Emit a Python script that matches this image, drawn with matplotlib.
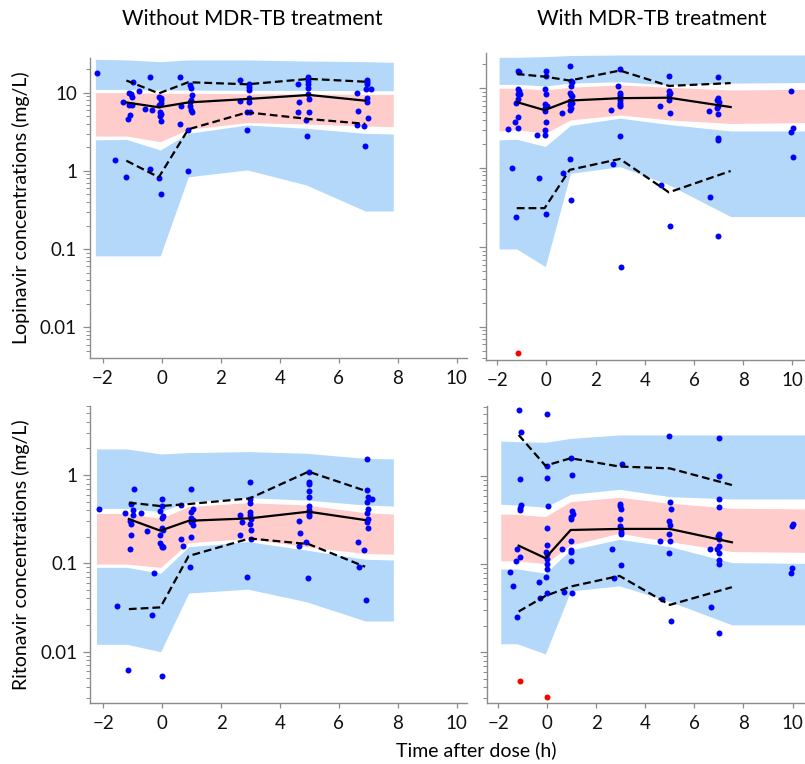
import numpy as np
import matplotlib
matplotlib.use("Agg")
import matplotlib.pyplot as plt
from matplotlib.ticker import LogLocator, NullFormatter, FixedLocator

plt.rcParams['font.family'] = ['Lato', 'DejaVu Sans']

# colours of the VPC bands
BLUE_BAND = '#b3d8fa'
PINK_BAND = '#ffcccc'
SPINE = '#8c8c8c'

col_titles = ["Without MDR-TB treatment", "With MDR-TB treatment"]
row_labels = ["Lopinavir concentrations (mg/L)", "Ritonavir concentrations (mg/L)"]
x_label = "Time after dose (h)"
x_ticks = [-2, 0, 2, 4, 6, 8, 10]

# ---------------- Lopinavir, without MDR-TB treatment ----------------
lpv_no_band_t = [-2.25, -1.2, -0.05, 0.9, 2.9, 4.9, 6.9, 7.85]
lpv_no_hi_top = [26.7, 26.2, 24.9, 26.2, 26.2, 25.4, 24.9, 24.4]
lpv_no_hi_bot = [11.0, 11.0, 10.8, 10.8, 10.7, 10.7, 10.6, 10.6]
lpv_no_md_top = [10.0, 10.0, 9.8, 9.8, 9.7, 9.6, 9.5, 9.5]
lpv_no_md_bot = [2.79, 2.79, 2.36, 3.40, 4.14, 3.98, 3.75, 3.68]
lpv_no_lo_top = [2.49, 2.53, 1.85, 3.02, 3.86, 3.50, 3.02, 2.96]
lpv_no_lo_bot = [0.082, 0.082, 0.082, 0.84, 1.03, 0.66, 0.307, 0.307]
lpv_no_line_t = [-1.2, -0.1, 0.9, 2.9, 5.0, 6.9]
lpv_no_p95 = [14.3, 9.8, 13.6, 12.8, 15.0, 13.8]
lpv_no_p50 = [7.5, 6.5, 7.5, 8.3, 9.35, 7.9]
lpv_no_p5 = [1.35, 0.83, 3.4, 5.6, 4.6, 4.0]
lpv_no_obs_t = [-2.18, -1.58, -1.21, -0.98, -0.76, -0.40, 0.62, -0.40, -0.02, 0.88,
                -1.30, -1.10, -1.05, -1.02, -1.10, -1.02, -1.07, -1.13, -0.57, -0.32,
                -0.09, -0.02, -0.02, -0.02, -0.09, -0.06, -0.02, -0.06, -0.02, -0.11,
                0.64, 0.62, 0.96, 0.99, 1.02, 0.99, 0.96, 0.96, 0.99, 1.02, 0.88,
                2.65, 2.97, 2.97, 2.97, 2.65, 2.97, 2.97, 2.88, 2.99, 2.88,
                4.63, 4.97, 4.97, 4.97, 4.97, 4.97, 5.00, 4.65, 4.63, 5.00, 4.89, 4.91,
                6.95, 6.95, 6.97, 6.93, 7.10, 6.61, 6.95, 6.95, 6.67, 7.00, 6.61, 6.86, 6.89]
lpv_no_obs_c = [17.7, 1.38, 0.83, 13.6, 10.6, 15.7, 15.7, 1.05, 0.51, 1.0,
                7.5, 10.0, 9.5, 8.9, 7.0, 7.0, 5.2, 4.6, 6.1, 6.0,
                8.9, 8.5, 8.07, 7.3, 7.0, 5.7, 5.4, 5.0, 4.3, 0.80,
                6.8, 4.0, 12.5, 11.4, 9.2, 8.07, 7.5, 6.8, 6.0, 5.6, 3.3,
                14.5, 12.8, 11.9, 10.8, 7.9, 8.5, 7.7, 5.6, 5.6, 3.3,
                12.8, 15.7, 14.3, 12.8, 11.6, 9.5, 8.2, 7.7, 5.6, 5.6, 4.5, 2.8,
                14.5, 13.6, 12.9, 11.1, 11.0, 9.8, 8.6, 7.7, 5.9, 4.7, 3.9, 3.75, 2.1]
lpv_no_blq_t = []
lpv_no_blq_c = []

# ---------------- Lopinavir, with MDR-TB treatment ----------------
lpv_tb_band_t = [-1.92, -1.2, -0.04, 0.98, 3.0, 4.98, 7.49, 10.6]
lpv_tb_hi_top = [24.5, 24.5, 25.0, 25.8, 26.2, 26.2, 26.2, 26.2]
lpv_tb_hi_bot = [11.2, 11.2, 10.7, 11.6, 12.1, 11.0, 11.6, 11.8]
lpv_tb_md_top = [10.0, 10.0, 9.5, 10.3, 11.0, 10.3, 9.5, 9.7]
lpv_tb_md_bot = [2.9, 3.0, 2.7, 4.0, 4.6, 4.0, 3.6, 3.7]
lpv_tb_lo_top = [2.24, 2.28, 1.85, 3.4, 4.2, 3.5, 2.9, 2.9]
lpv_tb_lo_bot = [0.095, 0.095, 0.057, 0.85, 1.03, 0.61, 0.243, 0.243]
lpv_tb_line_t = [-1.2, -0.07, 0.95, 2.99, 4.98, 7.49]
lpv_tb_p95 = [15.1, 14.0, 12.5, 16.7, 10.7, 11.6]
lpv_tb_p50 = [6.7, 5.3, 7.0, 7.5, 7.6, 5.8]
lpv_tb_p5 = [0.31, 0.31, 0.94, 1.29, 0.49, 0.91]
lpv_tb_obs_t = [-1.40, -1.22, -1.16, -1.09, -1.16, -1.09, -1.16, -1.06, -1.16, -1.22,
                -1.29, -1.16, -1.16, -1.54, -0.29,
                0.00, 0.00, -0.04, 0.00, -0.04, 0.03, -0.04, -0.04, 0.00, -0.04,
                -0.04, -0.38, -0.01, 0.64, 0.68,
                0.98, 1.00, 1.04, 1.00, 0.98, 1.00, 1.04, 0.98, 1.04, 0.98, 1.00, 0.98, 0.98, 1.00,
                2.99, 2.92, 2.99, 2.99, 3.01, 2.99, 3.01, 2.99, 2.99, 2.63, 3.01, 2.71, 3.04,
                4.98, 4.98, 5.02, 4.98, 4.98, 4.60, 5.02, 4.67, 5.02,
                6.98, 6.98, 6.95, 7.02, 6.98, 6.92, 6.61, 6.98, 6.98, 6.98, 6.65, 6.99,
                9.94, 10.01, 9.94, 10.01]
lpv_tb_obs_c = [0.98, 0.24, 16.7, 15.9, 9.7, 9.1, 8.4, 8.4, 7.3, 6.6,
                3.8, 4.3, 3.2, 3.1, 0.74,
                16.7, 14.3, 9.7, 8.4, 6.4, 6.0, 5.7, 5.2, 3.8, 3.0,
                2.6, 2.6, 0.26, 4.9, 0.87,
                19.3, 12.4, 12.1, 10.8, 8.6, 8.2, 7.9, 7.0, 6.6, 6.2, 5.6, 5.3, 1.29, 0.39,
                17.3, 10.7, 8.8, 8.2, 7.7, 7.1, 6.6, 6.2, 5.9, 5.4, 2.5, 1.12, 0.057,
                14.3, 9.1, 8.6, 8.2, 7.1, 6.0, 4.9, 0.61, 0.185,
                13.7, 7.5, 7.1, 6.8, 6.0, 5.6, 5.2, 4.8, 2.35, 2.24, 0.43, 0.14,
                9.1, 3.2, 2.85, 1.36]
lpv_tb_blq_t = [-1.13]
lpv_tb_blq_c = [0.0047]

# ---------------- Ritonavir, without MDR-TB treatment ----------------
rtv_no_band_t = [-2.23, -1.2, -0.05, 0.9, 2.9, 4.9, 6.9, 7.85]
rtv_no_hi_top = [1.97, 1.97, 1.73, 1.79, 1.84, 1.76, 1.54, 1.52]
rtv_no_hi_bot = [0.419, 0.419, 0.384, 0.498, 0.553, 0.520, 0.457, 0.445]
rtv_no_md_top = [0.367, 0.367, 0.323, 0.438, 0.486, 0.457, 0.374, 0.361]
rtv_no_md_bot = [0.098, 0.098, 0.090, 0.171, 0.191, 0.154, 0.129, 0.127]
rtv_no_lo_top = [0.090, 0.090, 0.077, 0.154, 0.176, 0.141, 0.111, 0.109]
rtv_no_lo_bot = [0.0121, 0.0121, 0.00998, 0.046, 0.051, 0.0367, 0.0222, 0.0222]
rtv_no_line_t = [-1.13, -0.06, 0.9, 2.97, 4.97, 6.89]
rtv_no_p95 = [0.486, 0.445, 0.469, 0.543, 1.09, 0.664]
rtv_no_p50 = [0.317, 0.234, 0.303, 0.323, 0.384, 0.309]
rtv_no_p5 = [0.0303, 0.0317, 0.121, 0.191, 0.165, 0.0915]
rtv_no_obs_t = [-2.15, -1.55, -1.16, -1.27, -0.96, -1.05, -0.98, -0.98, -0.73, -1.10,
                -1.07, -1.05, -1.10, -0.53, -0.28, -0.36, 0.00,
                -0.02, 0.00, -0.06, 0.03, 0.00, -0.02, 0.03, -0.06, -0.09, -0.02, 0.00, 0.03,
                0.99, 1.05, 0.99, 0.99, 1.05, 0.99, 1.04, 0.64, 0.99, 0.64, 0.70, 0.93,
                2.97, 2.99, 2.99, 2.99, 2.99, 3.02, 2.99, 3.03, 2.65, 2.71, 2.63, 3.03, 2.88,
                4.99, 4.97, 4.99, 5.00, 4.99, 4.97, 4.99, 5.00, 4.99, 4.63, 4.67, 4.89, 4.63, 4.94,
                6.95, 6.95, 6.98, 7.12, 6.95, 6.98, 6.95, 6.98, 6.95, 6.98, 6.64, 6.87, 6.67, 6.93]
rtv_no_obs_c = [0.41, 0.033, 0.0062, 0.37, 0.69, 0.47, 0.40, 0.35, 0.37, 0.30,
                0.28, 0.21, 0.144, 0.23, 0.078, 0.026, 0.0053,
                0.53, 0.45, 0.39, 0.34, 0.33, 0.25, 0.24, 0.21, 0.171, 0.157, 0.151, 0.154,
                0.69, 0.41, 0.38, 0.33, 0.31, 0.29, 0.27, 0.46, 0.20, 0.19, 0.158, 0.091,
                0.84, 0.53, 0.48, 0.38, 0.35, 0.32, 0.28, 0.24, 0.35, 0.29, 0.21, 0.187, 0.070,
                1.09, 0.84, 0.80, 0.66, 0.57, 0.44, 0.40, 0.36, 0.34, 0.30, 0.22, 0.176, 0.158, 0.069,
                1.52, 0.68, 0.56, 0.54, 0.50, 0.41, 0.37, 0.32, 0.29, 0.25, 0.176, 0.141, 0.091, 0.038]
rtv_no_blq_t = []
rtv_no_blq_c = []

# ---------------- Ritonavir, with MDR-TB treatment ----------------
rtv_tb_band_t = [-1.89, -1.23, -0.07, 0.96, 2.95, 5.0, 7.53, 10.62]
rtv_tb_hi_top = [2.49, 2.45, 2.41, 2.67, 2.92, 2.92, 2.92, 2.92]
rtv_tb_hi_bot = [0.478, 0.469, 0.442, 0.620, 0.706, 0.583, 0.549, 0.549]
rtv_tb_md_top = [0.371, 0.368, 0.346, 0.512, 0.573, 0.490, 0.431, 0.423]
rtv_tb_md_bot = [0.109, 0.109, 0.101, 0.165, 0.224, 0.180, 0.139, 0.136]
rtv_tb_lo_top = [0.0883, 0.0883, 0.0789, 0.145, 0.191, 0.158, 0.104, 0.102]
rtv_tb_lo_bot = [0.0125, 0.0125, 0.0096, 0.0497, 0.0567, 0.0377, 0.0205, 0.0205]
rtv_tb_line_t = [-1.16, -0.07, 0.96, 2.95, 5.0, 7.53]
rtv_tb_p95 = [2.92, 1.31, 1.59, 1.28, 1.22, 0.79]
rtv_tb_p50 = [0.162, 0.117, 0.244, 0.251, 0.251, 0.177]
rtv_tb_p5 = [0.029, 0.0436, 0.0557, 0.0736, 0.0345, 0.0548]
rtv_tb_obs_t = [-1.14, -1.07, -1.10, -1.07, -1.12, -1.10, -1.21, -1.10, -1.26, -1.51, -1.40, -1.21,
                0.00, 0.00, 0.00, 0.03, 0.00, 0.00, -0.04, 0.00, 0.00, 0.00, 0.00, -0.04, 0.00,
                -0.34, -0.27, 0.62,
                1.03, 0.99, 1.03, 1.07, 0.99, 0.99, 0.99, 0.99, 0.99, 0.99, 0.68, 1.03,
                3.04, 2.99, 2.99, 3.01, 2.99, 2.95, 3.01, 3.01, 3.01, 2.63, 3.01, 2.71,
                4.97, 5.00, 5.04, 4.97, 5.00, 4.97, 5.00, 4.62, 4.97, 4.68, 5.03,
                6.99, 7.01, 6.99, 7.01, 7.01, 6.96, 7.01, 6.99, 6.64, 6.92, 7.01, 6.99, 7.01, 6.67, 6.99,
                9.97, 10.03, 9.97, 9.93]
rtv_tb_obs_c = [5.6, 3.13, 0.92, 0.469, 0.431, 0.412, 0.148, 0.122, 0.109, 0.0824, 0.0571, 0.0254,
                5.0, 1.31, 0.94, 0.462, 0.255, 0.165, 0.139, 0.131, 0.114, 0.0998, 0.0874, 0.0710, 0.0476,
                0.0634, 0.0418, 0.149,
                1.03, 1.59, 0.402, 0.368, 0.346, 0.323, 0.185, 0.145, 0.139, 0.109, 0.0489, 0.0468,
                1.36, 0.482, 0.457, 0.419, 0.326, 0.271, 0.251, 0.234, 0.220, 0.148, 0.097, 0.0691,
                2.84, 0.512, 0.419, 0.309, 0.279, 0.220, 0.183, 0.183, 0.135, 0.0400, 0.0229,
                2.72, 1.0, 0.545, 0.450, 0.220, 0.209, 0.191, 0.161, 0.148, 0.149, 0.133, 0.112, 0.0998, 0.0324, 0.0164,
                0.271, 0.286, 0.0898, 0.0789]
rtv_tb_blq_t = [-1.12, 0.00]
rtv_tb_blq_c = [0.0047, 0.0031]


def draw_panel(ax, band_t, bands, line_t, p95, p50, p5, obs_t, obs_c, blq_t, blq_c, ylim, xlim):
    hi_top, hi_bot, md_top, md_bot, lo_top, lo_bot = bands
    ax.fill_between(band_t, hi_bot, hi_top, color=BLUE_BAND, lw=0, zorder=1)
    ax.fill_between(band_t, md_bot, md_top, color=PINK_BAND, lw=0, zorder=1)
    ax.fill_between(band_t, lo_bot, lo_top, color=BLUE_BAND, lw=0, zorder=1)
    ax.plot(obs_t, obs_c, 'o', color='#0000ff', ms=4.3, mew=0, zorder=3)
    ax.plot(blq_t, blq_c, 'o', color='#ff0000', ms=4.3, mew=0, zorder=3)
    ax.plot(line_t, p50, '-', color='black', lw=1.6, zorder=4)
    for p in (p95, p5):
        ax.plot(line_t, p, '--', color='black', lw=1.6, dashes=(3.5, 1.8), zorder=4)
    ax.set_yscale('log')
    ax.set_ylim(*ylim)
    ax.set_xlim(*xlim)
    ax.xaxis.set_major_locator(FixedLocator(x_ticks))
    ax.yaxis.set_major_locator(LogLocator(base=10, numticks=10))
    ax.yaxis.set_minor_locator(LogLocator(base=10, subs=np.arange(2, 10), numticks=10))
    ax.yaxis.set_minor_formatter(NullFormatter())
    ax.yaxis.set_major_formatter(plt.FuncFormatter(lambda v, _: '%g' % v))
    for s in ('top', 'right'):
        ax.spines[s].set_visible(False)
    for s in ('left', 'bottom'):
        ax.spines[s].set_color(SPINE)
        ax.spines[s].set_linewidth(1.0)
    ax.tick_params(axis='both', which='both', color=SPINE, direction='out', labelsize=13.5,
                   labelcolor='#111111')
    ax.tick_params(axis='y', which='major', length=5, width=0.9, pad=4)
    ax.tick_params(axis='y', which='minor', length=3, width=0.7)
    ax.tick_params(axis='x', which='major', length=3.5, width=0.9, pad=5)
    ax.set_facecolor('white')


fig = plt.figure(figsize=(8.05, 7.64), dpi=100)
W, H = 805.0, 764.0


def add_axes(left, right, top, bottom):
    return fig.add_axes([left / W, 1 - bottom / H, (right - left) / W, (bottom - top) / H])


ax_tl = add_axes(89.5, 466.7, 58.3, 358.3)
ax_tr = add_axes(486.0, 806.0, 52.7, 360.0)
ax_bl = add_axes(90.0, 466.7, 406.0, 703.0)
ax_br = add_axes(487.0, 806.0, 405.7, 703.0)

draw_panel(ax_tl, lpv_no_band_t,
           (lpv_no_hi_top, lpv_no_hi_bot, lpv_no_md_top, lpv_no_md_bot, lpv_no_lo_top, lpv_no_lo_bot),
           lpv_no_line_t, lpv_no_p95, lpv_no_p50, lpv_no_p5,
           lpv_no_obs_t, lpv_no_obs_c, lpv_no_blq_t, lpv_no_blq_c,
           (0.00402, 27.5), (-2.45, 10.34))
draw_panel(ax_tr, lpv_tb_band_t,
           (lpv_tb_hi_top, lpv_tb_hi_bot, lpv_tb_md_top, lpv_tb_md_bot, lpv_tb_lo_top, lpv_tb_lo_bot),
           lpv_tb_line_t, lpv_tb_p95, lpv_tb_p50, lpv_tb_p5,
           lpv_tb_obs_t, lpv_tb_obs_c, lpv_tb_blq_t, lpv_tb_blq_c,
           (0.00381, 28.0), (-2.45, 10.55))
draw_panel(ax_bl, rtv_no_band_t,
           (rtv_no_hi_top, rtv_no_hi_bot, rtv_no_md_top, rtv_no_md_bot, rtv_no_lo_top, rtv_no_lo_bot),
           rtv_no_line_t, rtv_no_p95, rtv_no_p50, rtv_no_p5,
           rtv_no_obs_t, rtv_no_obs_c, rtv_no_blq_t, rtv_no_blq_c,
           (0.00262, 6.04), (-2.45, 10.34))
draw_panel(ax_br, rtv_tb_band_t,
           (rtv_tb_hi_top, rtv_tb_hi_bot, rtv_tb_md_top, rtv_tb_md_bot, rtv_tb_lo_top, rtv_tb_lo_bot),
           rtv_tb_line_t, rtv_tb_p95, rtv_tb_p50, rtv_tb_p5,
           rtv_tb_obs_t, rtv_tb_obs_c, rtv_tb_blq_t, rtv_tb_blq_c,
           (0.00266, 6.27), (-2.45, 10.55))

# right-hand panels carry no y tick labels
for ax in (ax_tr, ax_br):
    ax.tick_params(axis='y', which='both', labelleft=False)

fig.text(252 / W, 1 - 19 / H, col_titles[0], ha='center', va='center', fontsize=15)
fig.text(652 / W, 1 - 19 / H, col_titles[1], ha='center', va='center', fontsize=15)
fig.text(21 / W, 1 - 208 / H, row_labels[0], ha='center', va='center', rotation=90, fontsize=14)
fig.text(21 / W, 1 - 555 / H, row_labels[1], ha='center', va='center', rotation=90, fontsize=14)
fig.text(476 / W, 1 - 750 / H, x_label, ha='center', va='center', fontsize=14)

fig.savefig('out.png', dpi=100, facecolor='white')
